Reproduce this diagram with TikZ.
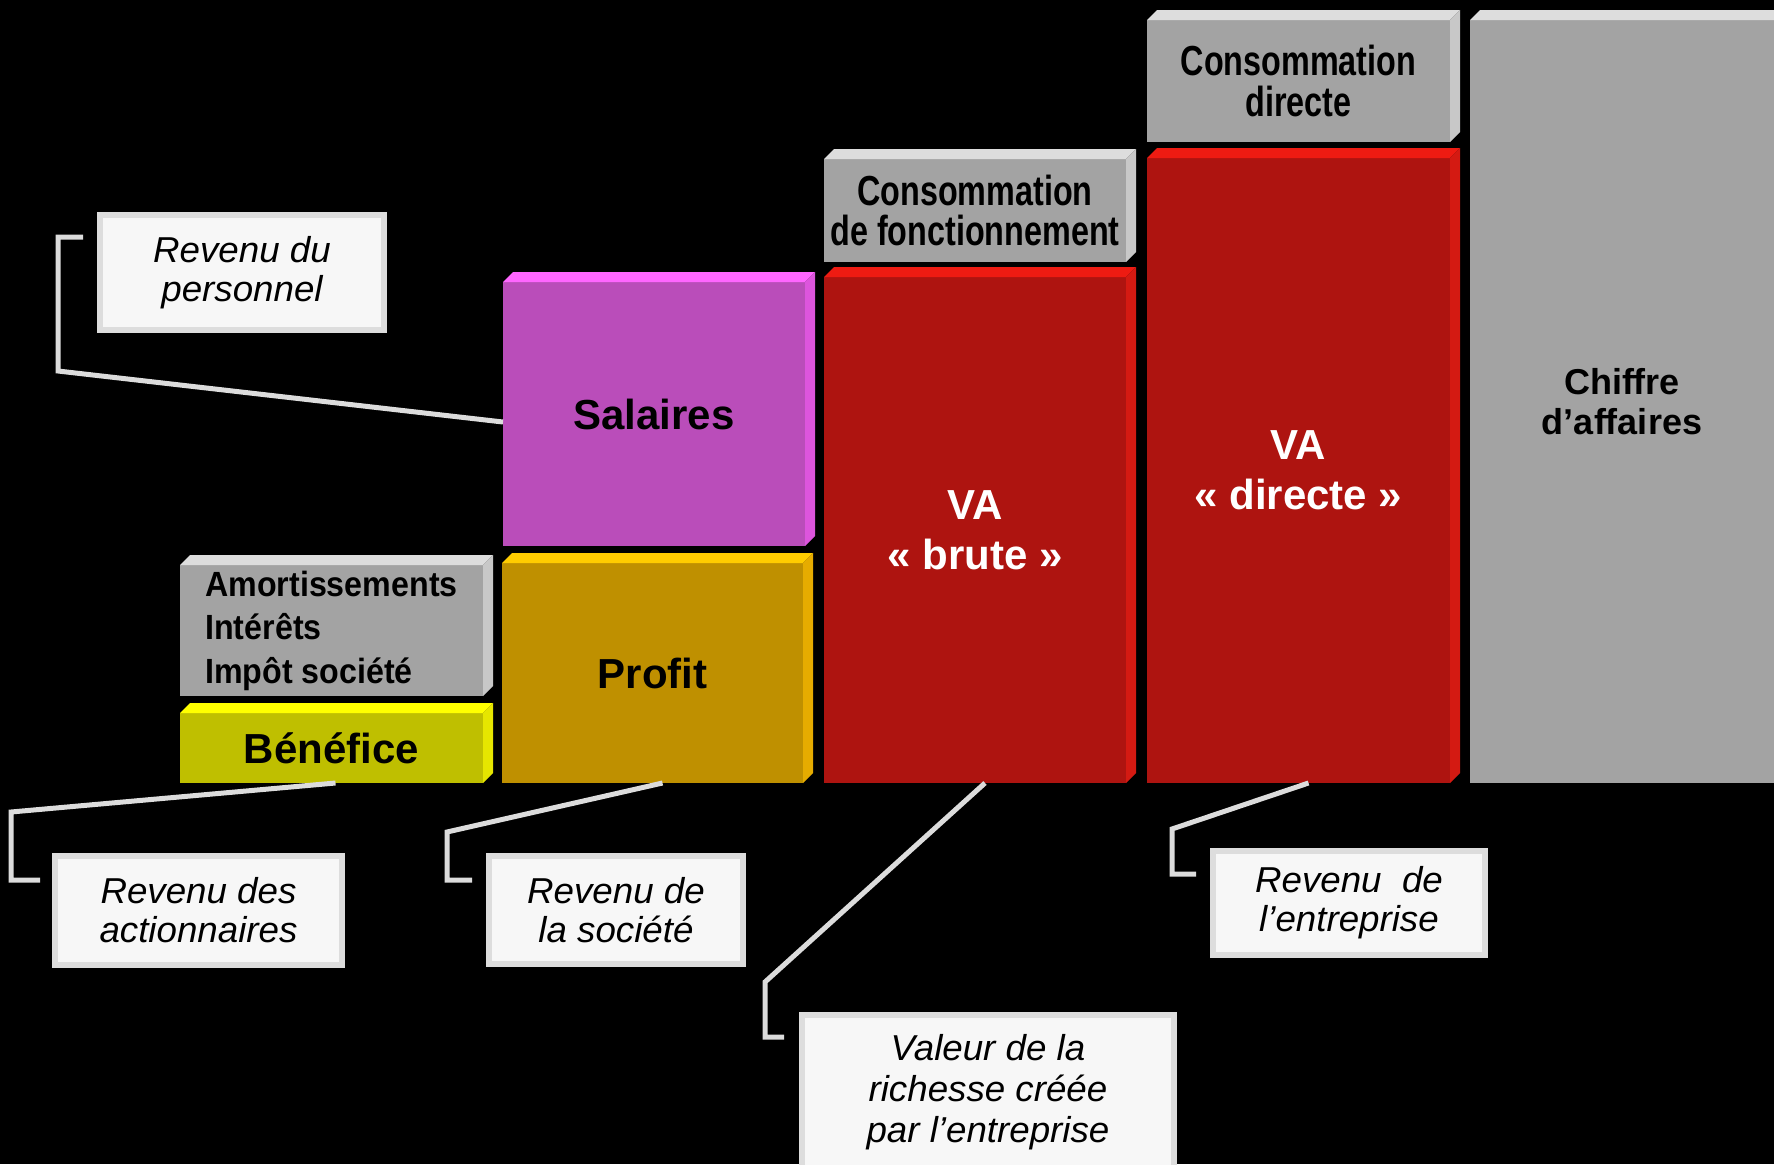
\documentclass[tikz,border=0pt]{standalone}
\usepackage{fontspec}
\setmainfont{Liberation Sans}
\newfontfamily\fAm[FakeStretch=0.92]{Liberation Sans}
\newfontfamily\fCo[FakeStretch=0.77]{Liberation Sans}
\newfontfamily\fIt[FakeStretch=1.02]{Liberation Sans}
\definecolor{greyF}{HTML}{A3A3A3}
\definecolor{greyT}{HTML}{DDDDDD}
\definecolor{greyS}{HTML}{C8C8C8}
\definecolor{redF}{HTML}{AE1410}
\definecolor{redT}{HTML}{EE1B12}
\definecolor{redS}{HTML}{D41A12}
\definecolor{magF}{HTML}{BA4DBA}
\definecolor{magT}{HTML}{FF66FF}
\definecolor{magS}{HTML}{DD55DD}
\definecolor{golF}{HTML}{BF9000}
\definecolor{golT}{HTML}{FFCC00}
\definecolor{golS}{HTML}{E6AC00}
\definecolor{oliF}{HTML}{BFBF00}
\definecolor{oliT}{HTML}{FFFF00}
\definecolor{oliS}{HTML}{E6E600}
\definecolor{lblfill}{HTML}{F7F7F7}
\definecolor{lblline}{HTML}{DDDDDD}
\definecolor{connc}{HTML}{DCDCDC}
\newcommand{\slabfaces}[3]{%
  \fill[#2] (#1.north west) -- ++(10,-10) -- ([shift={(10,-10)}]#1.north east) -- (#1.north east) -- cycle;
  \fill[#3] (#1.north east) -- ([shift={(10,-10)}]#1.north east) -- ([shift={(10,-10)}]#1.south east) -- (#1.south east) -- cycle;}
\tikzset{
  slab/.style={rectangle, inner sep=0pt, outer sep=0pt, align=center},
  bigtxt/.style={font=\bfseries\fontsize{21}{25}\selectfont},
  contxt/.style={font=\fCo\bfseries\fontsize{21}{20.25}\selectfont},
  lbl/.style={rectangle, fill=lblfill, draw=lblline, line width=3pt, inner sep=0pt, outer sep=0pt, align=center,
    font=\fIt\itshape\fontsize{18}{19.5}\selectfont},
  conn/.style={draw=connc, line width=2.5pt, line join=miter},
}
\begin{document}
\begin{tikzpicture}[x=0.5pt,y=-0.5pt]
\fill[black] (0,0) rectangle (1774,1164);
\useasboundingbox (0,0) rectangle (1774,1164);
\clip (0,0) rectangle (1774,1164);

% front faces (nodes)
\node[slab, fill=greyF, contxt, minimum width=151.5pt, minimum height=61pt] (consdir) at (1298.5,81) {Consommation\\directe};
\node[slab, fill=redF, bigtxt, text=white, minimum width=151.5pt, minimum height=312.5pt] (vadir) at (1298.5,470.5) {VA\\« directe »};
\node[slab, fill=greyF, font=\bfseries\fontsize{18}{20}\selectfont, minimum width=152pt, minimum height=381.5pt] (chiffre) at (1622,401.5) {Chiffre\\d’affaires};
\node[slab, fill=greyF, contxt, minimum width=151pt, minimum height=51.5pt] (cfonc) at (975,210.5) {Consommation\\de fonctionnement};
\node[slab, fill=redF, bigtxt, text=white, minimum width=151pt, minimum height=253pt] (vabrute) at (975,530) {VA\\« brute »};
\node[slab, fill=magF, bigtxt, minimum width=151pt, minimum height=132pt] (salaires) at (654,414) {Salaires};
\node[slab, fill=golF, bigtxt, minimum width=150.5pt, minimum height=110pt] (profit) at (652.5,673) {Profit};
\node[slab, fill=greyF, align=left, font=\fAm\bfseries\fontsize{17.5}{21.75}\selectfont, minimum width=151.5pt, minimum height=65.5pt] (amort) at (331.5,630.5) {Amortissements\\Intérêts\\Impôt société};
\node[slab, fill=oliF, bigtxt, minimum width=151.5pt, minimum height=35pt] (benef) at (331.5,748) {Bénéfice};

% bevel faces
\slabfaces{consdir}{greyT}{greyS}
\slabfaces{vadir}{redT}{redS}
\slabfaces{chiffre}{greyT}{greyS}
\slabfaces{cfonc}{greyT}{greyS}
\slabfaces{vabrute}{redT}{redS}
\slabfaces{salaires}{magT}{magS}
\slabfaces{profit}{golT}{golS}
\slabfaces{amort}{greyT}{greyS}
\slabfaces{benef}{oliT}{oliS}

% label boxes
\node[lbl, minimum width=142pt, minimum height=57.5pt] (lperso) at (242,272.5) {Revenu du\\personnel};
\node[lbl, minimum width=143.5pt, minimum height=54.5pt] (lact) at (198.5,910.5) {Revenu des\\actionnaires};
\node[lbl, minimum width=127pt, minimum height=54pt] (lsoc) at (616,910) {Revenu de\\la société};
\node[lbl, minimum width=136pt, minimum height=52pt] (lent) at (1349,903) {Revenu~~de\\l’entreprise};
\node[lbl, font=\fIt\itshape\fontsize{18}{20.5}\selectfont, minimum width=186pt, minimum height=77pt] (lval) at (988,1092) {Valeur de la\\richesse créée\\par l’entreprise};

% free ends of the connectors
\coordinate (e1) at (83,237);
\coordinate (e2) at (40,880);
\coordinate (e3) at (472,880);
\coordinate (e4) at (784,1037);
\coordinate (e5) at (1196,874);

% connectors
\draw[conn] ([yshift=-4pt]salaires.west) -- (58,371) |- (e1);
\draw[conn] ([xshift=2pt]benef.south) -- (11,812) |- (e2);
\draw[conn] ([xshift=5pt]profit.south) -- (447,832) |- (e3);
\draw[conn] ([xshift=5pt]vabrute.south) -- (765,982) |- (e4);
\draw[conn] ([xshift=5pt]vadir.south) -- (1172,829) |- (e5);
\end{tikzpicture}
\end{document}
